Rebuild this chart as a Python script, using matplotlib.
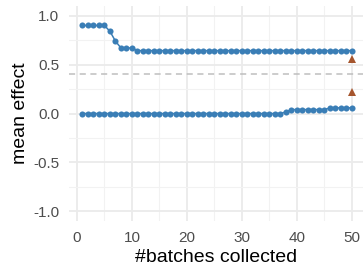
import matplotlib
matplotlib.use("Agg")
import matplotlib.pyplot as plt
from matplotlib.ticker import MultipleLocator

plt.rcParams['font.family'] = ['Liberation Sans', 'DejaVu Sans']

batches = list(range(1, 51))

# mean effect of the two groups per batch
upper_effect = [0.90] * 5 + [0.84, 0.74, 0.67, 0.67, 0.67] + [0.643] * 40
lower_effect = [0.0] * 37 + [0.017] + [0.04] * 7 + [0.058] * 5

# true effects shown at the last batch
true_x = [50, 50]
true_effect = [0.56, 0.22]

threshold = 0.4

blue = '#3A7EB6'
brown = '#A5552D'

fig = plt.figure(figsize=(3.63, 2.69), dpi=100)
ax = fig.add_axes([0.19, 0.178, 0.81, 0.8])

ax.axhline(threshold, color='#BEBEBE', linestyle=(0, (4, 3)), linewidth=1.1, zorder=1)

for series in [upper_effect, lower_effect]:
    ax.plot(batches, series, color=blue, linewidth=1.1, marker='o',
            markersize=4.4, markeredgewidth=0, zorder=3)

ax.plot(true_x, true_effect, linestyle='none', marker='^', color=brown,
        markersize=5.5, markeredgewidth=0, zorder=4)

ax.set_xlim(-1.45, 52.0)
ax.set_ylim(-1.1, 1.1)
ax.xaxis.set_major_locator(MultipleLocator(10))
ax.xaxis.set_minor_locator(MultipleLocator(5))
ax.yaxis.set_major_locator(MultipleLocator(0.5))
ax.yaxis.set_minor_locator(MultipleLocator(0.25))
ax.set_yticks([-1.0, -0.5, 0.0, 0.5, 1.0])
ax.set_yticklabels(['-1.0', '-0.5', '0.0', '0.5', '1.0'])

ax.grid(True, which='major', color='#EBEBEB', linewidth=1.3, zorder=0)
ax.grid(True, which='minor', color='#F2F2F2', linewidth=0.8, zorder=0)
ax.set_axisbelow(True)
for s in ax.spines.values():
    s.set_visible(False)
ax.tick_params(which='both', length=0, labelsize=11, labelcolor='#4D4D4D')
ax.tick_params(axis='x', pad=7)
ax.tick_params(axis='y', pad=7)

ax.set_xlabel('#batches collected', fontsize=14, labelpad=3)
ax.set_ylabel('mean effect', fontsize=14, labelpad=3)

fig.savefig('out.png', dpi=100)
